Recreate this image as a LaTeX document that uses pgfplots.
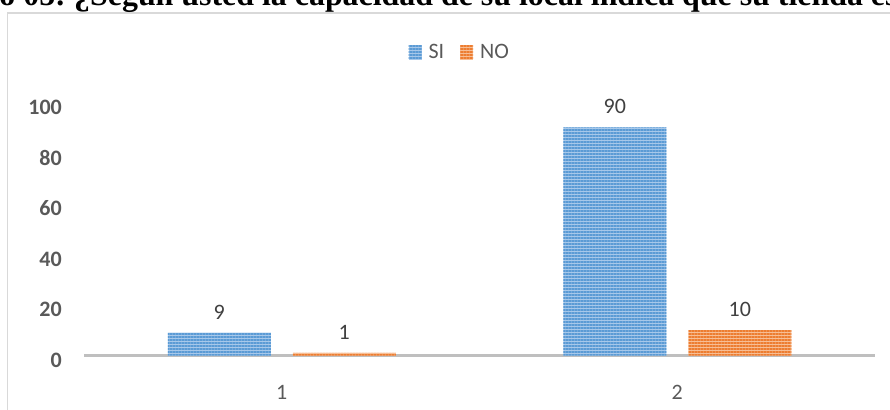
\documentclass[border=0pt]{standalone}
\usepackage{pgfplots}
\pgfplotsset{compat=1.18}
\usepackage{fontspec}
\usetikzlibrary{patterns.meta}
\newfontfamily\calibri{Carlito}
\newfontfamily\timesf{Liberation Serif}
\definecolor{siF}{HTML}{A7C8EA}
\definecolor{siL}{HTML}{5B9BD5}
\definecolor{noF}{HTML}{F7BE95}
\definecolor{noL}{HTML}{ED7D31}
\definecolor{tickc}{HTML}{595959}
\definecolor{labc}{HTML}{404040}
\definecolor{axl}{HTML}{BFBFBF}
\definecolor{frm}{HTML}{D9D9D9}
\begin{document}
\begin{tikzpicture}
\path (0pt,0pt) rectangle (890pt,409pt);
\draw[frm, line width=1.5pt, overlay] (7.5pt,396pt) rectangle (920pt,-20pt);
\node[overlay, anchor=base west, inner sep=0pt, font=\timesf\bfseries\fontsize{31.9}{36}\selectfont] at (74pt,403.5pt) {¿Según usted la capacidad de su local indica que su tienda es adecuada?};
\node[overlay, anchor=base east, inner sep=0pt, font=\timesf\bfseries\fontsize{31.9}{36}\selectfont] at (74pt,403.5pt) {Gráfico 05:\hspace{0.25em}\null};
\begin{axis}[
  at={(84pt,53.5pt)}, anchor=south west,
  scale only axis, width=791pt, height=253.5pt,
  xmin=0.5, xmax=2.5, ymin=0, ymax=100,
  ybar=22pt, bar width=103pt,
  separate axis lines,
  axis x line*=bottom, axis y line*=left,
  x axis line style={axl, line width=3pt},
  y axis line style={draw=none},
  xtick={1,2}, ytick={0,20,40,60,80,100},
  major tick length=0pt,
  /pgf/number format/assume math mode=true,
  xticklabel style={font=\calibri\fontsize{22}{26}\selectfont, text=tickc, anchor=north, inner sep=0pt, yshift=-30pt},
  yticklabel style={font=\calibri\bfseries\fontsize{22}{26}\selectfont, text=tickc, anchor=east, inner sep=0pt, xshift=-22pt, yshift=-5pt},
  nodes near coords,
  every node near coord/.append style={font=\calibri\fontsize{22}{26}\selectfont, text=labc, anchor=south, inner sep=0pt, yshift=13pt},
  legend style={at={(0.475,1.197)}, anchor=center, draw=none, fill=none, legend columns=2, font=\calibri\fontsize{22}{26}\selectfont, text=tickc, /tikz/every odd column/.append style={column sep=5pt}, /tikz/every even column/.append style={column sep=14pt}},
  legend image code/.code={\path[#1] (0pt,-7.5pt) rectangle (13pt,7.5pt);},
  clip=false,
]
\addplot[fill=siF, draw=none, postaction={pattern={Lines[angle=0,distance=3pt,line width=1.1pt]}, pattern color=siL}] coordinates {(1,9) (2,90)};
\addplot[fill=noF, draw=none, postaction={pattern={Lines[angle=0,distance=3pt,line width=1.1pt]}, pattern color=noL}] coordinates {(1,1) (2,10)};
\legend{SI,NO}
\end{axis}
\end{tikzpicture}
\end{document}
